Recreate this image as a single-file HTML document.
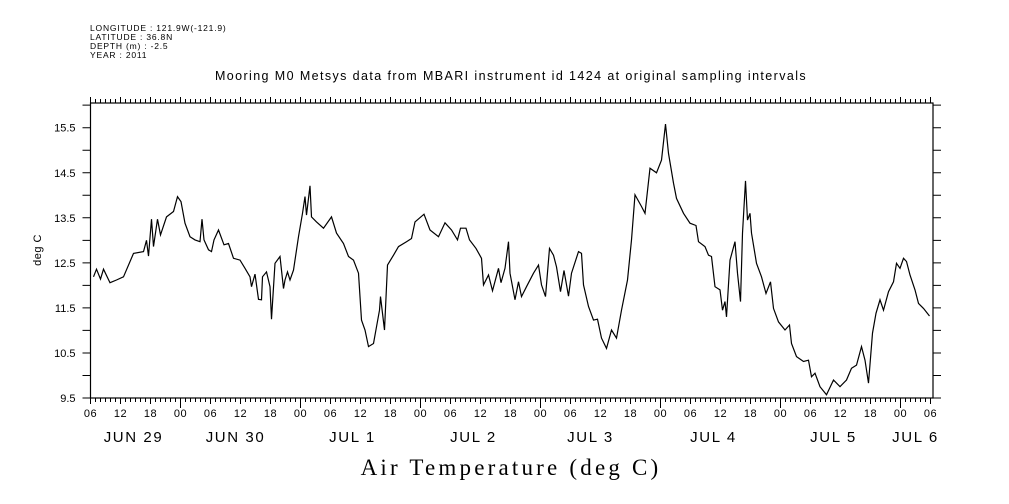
<!DOCTYPE html>
<html><head><meta charset="utf-8"><style>
body{margin:0;background:#fff;}
svg{display:block;font-family:"Liberation Sans",sans-serif;}
</style></head><body>
<svg id="c" width="1009" height="504" viewBox="0 0 1009 504">
<g font-size="8.5" letter-spacing="0.8" fill="#000">
<text x="90" y="31">LONGITUDE : 121.9W(-121.9)</text>
<text x="90" y="40">LATITUDE : 36.8N</text>
<text x="90" y="49">DEPTH (m) : -2.5</text>
<text x="90" y="58">YEAR : 2011</text>
</g>
<text x="511" y="80" font-size="12.5" letter-spacing="1.4" text-anchor="middle">Mooring M0 Metsys data from MBARI instrument id 1424 at original sampling intervals</text>
<text transform="translate(41,250) rotate(-90)" font-size="11" letter-spacing="0.5" text-anchor="middle">deg C</text>
<text x="511" y="475" font-family="Liberation Serif,serif" font-size="23" letter-spacing="3.2" text-anchor="middle">Air Temperature (deg C)</text>
<g id="axes"></g>
<path id="line" fill="none" stroke="#000" stroke-width="1.2"/>
</svg>
<script>
const hours=[6.6,7.2,8.0,8.6,9.9,11.2,12.6,14.6,16.6,17.2,17.6,18.2,18.6,19.4,20.0,21.2,22.6,23.4,24.1,24.9,25.9,26.9,27.9,28.3,28.7,29.6,30.2,30.7,31.6,32.7,33.6,34.6,35.9,36.9,37.9,38.2,38.9,39.6,40.2,40.4,41.2,41.9,42.2,42.9,43.9,44.6,44.9,45.4,45.9,46.6,47.6,48.4,48.9,49.2,49.9,50.2,51.2,52.6,54.2,55.2,56.6,57.6,58.6,59.6,60.2,60.9,61.6,62.6,63.2,63.8,64.0,64.8,65.4,66.6,67.6,69.2,70.2,70.9,72.7,73.9,75.6,76.9,78.2,79.4,80.0,81.1,81.8,83.1,84.2,84.6,85.6,86.4,87.6,88.1,88.9,89.6,89.9,90.9,91.6,92.2,93.2,94.6,95.6,96.2,97.0,97.8,98.6,99.2,100.0,100.7,101.6,102.2,103.6,104.2,104.6,105.6,106.6,107.4,108.2,109.2,110.2,111.2,112.2,113.4,114.2,114.9,116.2,116.9,117.9,119.2,120.2,121.0,121.6,122.6,123.2,124.6,125.9,127.1,127.6,128.9,129.6,130.2,130.9,131.9,132.4,132.9,133.2,133.9,134.9,135.4,136.0,136.4,137.0,137.4,137.9,138.2,139.2,140.2,141.1,142.0,142.6,143.6,144.9,145.8,146.2,147.2,148.6,149.6,150.2,150.9,151.9,153.2,154.6,155.9,157.2,158.2,159.2,160.2,160.9,161.6,162.4,163.1,163.9,164.6,165.6,166.6,167.2,167.9,168.6,169.2,169.9,170.9,171.6,172.6,173.8];
const temps=[12.19,12.36,12.14,12.36,12.06,12.12,12.19,12.71,12.75,13.0,12.65,13.47,12.86,13.47,13.12,13.52,13.64,13.97,13.86,13.38,13.08,13.01,12.97,13.47,13.01,12.79,12.75,13.01,13.23,12.90,12.93,12.60,12.56,12.38,12.19,11.97,12.25,11.69,11.68,12.19,12.30,11.97,11.25,12.49,12.64,11.93,12.12,12.30,12.12,12.34,13.08,13.60,13.97,13.56,14.21,13.52,13.41,13.27,13.52,13.16,12.93,12.64,12.56,12.27,11.23,11.01,10.64,10.71,11.08,11.45,11.75,11.01,12.45,12.67,12.86,12.97,13.04,13.41,13.58,13.23,13.08,13.39,13.23,13.01,13.27,13.27,13.01,12.82,12.60,12.01,12.23,11.88,12.38,12.06,12.38,12.97,12.27,11.68,12.08,11.75,11.97,12.27,12.45,12.01,11.75,12.82,12.67,12.41,11.86,12.33,11.76,12.27,12.75,12.71,12.01,11.53,11.23,11.25,10.83,10.60,11.01,10.83,11.45,12.12,13.01,14.01,13.75,13.60,14.60,14.50,14.78,15.58,14.93,14.27,13.93,13.60,13.38,13.33,12.97,12.86,12.67,12.64,11.97,11.90,11.45,11.64,11.30,12.56,12.97,12.27,11.64,13.16,14.32,13.45,13.60,13.16,12.49,12.19,11.82,12.08,11.49,11.19,11.01,11.12,10.71,10.42,10.31,10.34,9.97,10.05,9.75,9.57,9.90,9.75,9.90,10.16,10.23,10.64,10.34,9.83,10.94,11.38,11.68,11.45,11.86,12.08,12.49,12.38,12.60,12.53,12.23,11.90,11.60,11.49,11.32];
const yTickLabels=["9.5","10.5","11.5","12.5","13.5","14.5","15.5"];
const dayLabels=["JUN 29","JUN 30","JUL  1","JUL  2","JUL  3","JUL  4","JUL  5","JUL  6"];
const dayLabelHours=[14.6,35.0,58.4,82.6,106.0,130.6,154.6,171.0];
const L=90.5,R=933,T=103,B=398;
const X=h=>60.5+5*h;
const Y=v=>B-(v-9.5)*45.05;
const ns="http://www.w3.org/2000/svg";
const ax=document.getElementById('axes');
function mk(t,a){const e=document.createElementNS(ns,t);for(const k in a)e.setAttribute(k,a[k]);ax.appendChild(e);return e;}
const fr=mk('rect',{x:L,y:T,width:R-L,height:B-T,fill:'none',stroke:'#000','stroke-width':1.2});


let d='';
for(let h=6;h<=174;h++){const x=X(h);const maj=h%6===0,day=h%24===0;
d+=`M${x},${B}v${day?10:(maj?6:4)}M${x},${T}v${maj?-6:-4}`;
if(maj){const t=mk('text',{x:x,y:B+19,'font-size':11,'letter-spacing':0.5,'text-anchor':'middle'});t.textContent=String(h%24).padStart(2,'0');

}}
for(let v=9.5;v<=16.01;v+=0.5){const y=Y(v);d+=`M${L},${y}h-8M${R},${y}h8`;}
const tk=mk('path',{d:d,stroke:'#000','stroke-width':1,fill:'none'});


yTickLabels.forEach(s=>{const t=mk('text',{x:L-15,y:Y(parseFloat(s))+4,'font-size':11,'text-anchor':'end'});t.textContent=s;

});
dayLabels.forEach((s,i)=>{const t=mk('text',{x:X(dayLabelHours[i]),y:B+44,'font-size':15,'letter-spacing':1.6,'text-anchor':'middle','xml:space':'preserve'});t.textContent=s;

});
document.getElementById('line').setAttribute('d',hours.map((h,i)=>(i?'L':'M')+X(h).toFixed(1)+','+Y(temps[i]).toFixed(1)).join(''));
</script>
</body></html>
